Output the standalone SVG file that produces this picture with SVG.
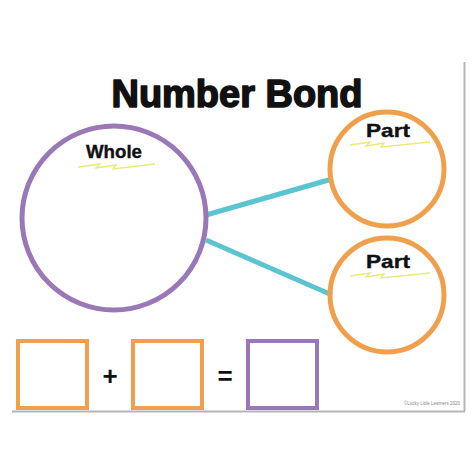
<svg xmlns="http://www.w3.org/2000/svg" width="474" height="474" viewBox="0 0 474 474">
<style>
.t{font-family:"Liberation Sans",Arial,sans-serif;font-weight:bold;fill:#111;text-anchor:middle}
.whole{fill:none;stroke:#9a78b8;stroke-width:5}
.part{fill:none;stroke:#f0a04c;stroke-width:5}
.box-o{fill:none;stroke:#f0a04c;stroke-width:4}
.box-p{fill:none;stroke:#9a78b8;stroke-width:4}
.sq{fill:none;stroke:#e6ea7a;stroke-width:1.3}
.conn{stroke:#5cc3d0;stroke-width:5;stroke-linecap:butt}
</style>
<rect width="474" height="474" fill="#fff"/>
<g id="page">
<line x1="464.5" y1="62" x2="464.5" y2="411" stroke="#b5b5b5" stroke-width="2"/>
<line x1="12" y1="411.5" x2="465" y2="411.5" stroke="#b5b5b5" stroke-width="2"/>
</g>
<text id="title" class="t" x="237" y="107" font-size="39" stroke="#111" stroke-width="1.6" stroke-linejoin="round" textLength="251" lengthAdjust="spacingAndGlyphs">Number Bond</text>
<g id="connectors">
<line class="conn" x1="206" y1="215" x2="332" y2="179"/>
<line class="conn" x1="206" y1="240" x2="332" y2="295"/>
</g>
<g id="whole">
<circle class="whole" cx="114" cy="218" r="92"/>
<text class="t" x="114" y="158" font-size="19" stroke="#111" stroke-width="0.4" textLength="56" lengthAdjust="spacingAndGlyphs">Whole</text>
<path class="sq" d="M78 167 L100 164 L96 168 L116 165 L113 169 L155 164"/>
</g>
<g id="part1">
<circle class="part" cx="387" cy="169" r="57"/>
<text class="t" x="388" y="137" font-size="19" stroke="#111" stroke-width="0.4" textLength="44" lengthAdjust="spacingAndGlyphs">Part</text>
<path class="sq" d="M350 145 L370 142 L366 146 L384 143 L381 147 L430 142"/>
</g>
<g id="part2">
<circle class="part" cx="387" cy="295" r="57"/>
<text class="t" x="388" y="268" font-size="19" stroke="#111" stroke-width="0.4" textLength="44" lengthAdjust="spacingAndGlyphs">Part</text>
<path class="sq" d="M350 276 L370 273 L366 277 L384 274 L381 278 L430 273"/>
</g>
<g id="box1"><rect class="box-o" x="18" y="341" width="69" height="67"/></g>
<text id="plus" class="t" x="110" y="385" font-size="26">+</text>
<g id="box2"><rect class="box-o" x="133" y="341" width="69" height="67"/></g>
<text id="equals" class="t" x="225" y="385" font-size="26">=</text>
<g id="box3"><rect class="box-p" x="248" y="341" width="69" height="67"/></g>
<text id="credit" x="432" y="405" font-size="4.5" font-family="Liberation Sans,Arial,sans-serif" fill="#888" text-anchor="middle">©Lucky Little Learners 2020</text>
</svg>
